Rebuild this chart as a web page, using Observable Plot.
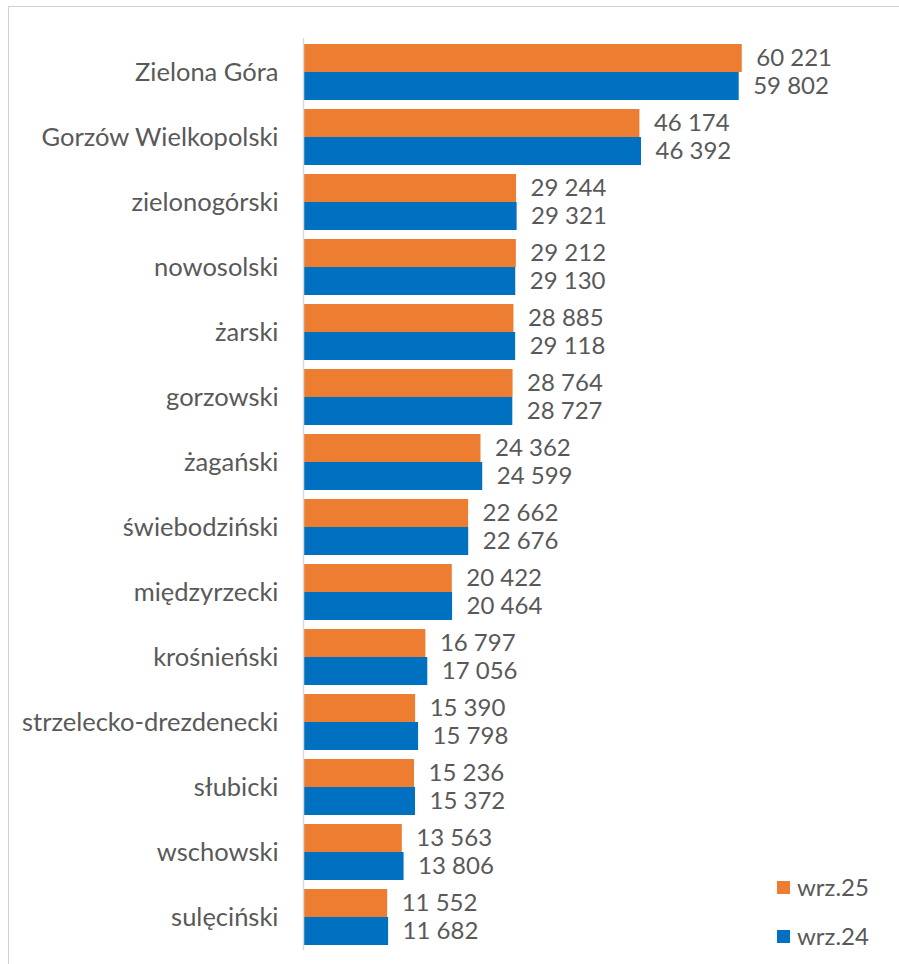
<!DOCTYPE html>
<html><head><meta charset="utf-8">
<script src="https://cdn.jsdelivr.net/npm/d3@7"></script>
<script src="https://cdn.jsdelivr.net/npm/@observablehq/plot@0.6"></script>
<style>
body{margin:0;background:#fff;}
#wrap{position:relative;width:899px;height:964px;overflow:hidden;font-family:Lato,sans-serif;color:#595959;}
#frame{position:absolute;left:8px;top:6px;width:1000px;height:1000px;border-left:1.5px solid #d0d0d0;border-top:1.5px solid #d0d0d0;}
#chart{position:absolute;left:0;top:0;}
.leg{position:absolute;left:777px;font-size:24px;line-height:24px;display:flex;align-items:center;}
.leg span.sw{display:inline-block;width:13px;height:13px;margin-right:7px;}
</style></head>
<body>
<div id="wrap">
  <div id="frame"></div>
  <div id="chart"></div>
  <div class="leg" style="top:875px"><span class="sw" style="background:#ED7D31"></span>wrz.25</div>
  <div class="leg" style="top:924px"><span class="sw" style="background:#0070C0"></span>wrz.24</div>
</div>
<script>
const categories = ["Zielona Góra","Gorzów Wielkopolski","zielonogórski","nowosolski","żarski","gorzowski","żagański","świebodziński","międzyrzecki","krośnieński","strzelecko-drezdenecki","słubicki","wschowski","sulęciński"];
const wrz25 = [60221,46174,29244,29212,28885,28764,24362,22662,20422,16797,15390,15236,13563,11552];
const wrz24 = [59802,46392,29321,29130,29118,28727,24599,22676,20464,17056,15798,15372,13806,11682];

const data = categories.map((c,i)=>({cat:c, v25:wrz25[i], v24:wrz24[i]}));
const fmt = d3.formatLocale({decimal:",", thousands:" ", grouping:[3], currency:["",""]}).format(",d");

const chart = Plot.plot({
  width: 899, height: 964,
  marginLeft: 303, marginRight: 86, marginTop: 38, marginBottom: 14,
  style: {fontFamily: "Lato, sans-serif", fontSize: "25.5px", color: "#595959", background: "transparent"},
  x: {domain: [0, 70000], axis: null},
  y: {domain: categories, paddingInner: 0.1415, paddingOuter: 0.061, tickSize: 0, tickPadding: 25, label: null},
  marks: [
    Plot.barX(data, {x: "v25", y: "cat", fill: "#ED7D31", insetBottom: 28}),
    Plot.barX(data, {x: "v24", y: "cat", fill: "#0070C0", insetTop: 28}),
    Plot.ruleX([0], {stroke: "#d9d9d9", strokeWidth: 1.5}),
    Plot.text(data, {x: "v25", y: "cat", text: d => fmt(d.v25), dx: 14, dy: -14, textAnchor: "start", fill: "#595959", fontSize: 24}),
    Plot.text(data, {x: "v24", y: "cat", text: d => fmt(d.v24), dx: 14, dy: 14, textAnchor: "start", fill: "#595959", fontSize: 24})
  ]
});
document.getElementById("chart").appendChild(chart);
</script>
</body></html>
